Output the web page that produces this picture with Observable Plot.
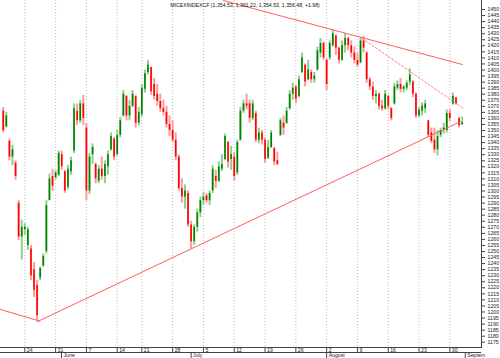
<!DOCTYPE html>
<html><head><meta charset="utf-8">
<script src="https://cdn.jsdelivr.net/npm/d3@7"></script>
<script src="https://cdn.jsdelivr.net/npm/@observablehq/plot@0.6"></script>
<style>body{margin:0;background:#fff}</style>
</head><body><div id="chart"></div>
<script>
const titleText = "MICEXINDEXCF (1,354.53, 1,361.22, 1,354.53, 1,356.48, +1.98)";
// bars: trading-day position of the first bar and half-day spacing
const firstBarDay = -3.5, barStep = 0.5;
const open = [1366,1353,1341,1328,1323,1290,1262,1268,1255,1252,1235,1222,1228,1238,1250,1292,1312,1311,1313,1330,1316,1303,1316,1333,1366,1358,1372,1352,1300,1330,1322,1308,1318,1312,1320,1334,1343,1330,1346,1362,1378,1362,1370,1378,1356,1363,1384,1398,1402,1388,1380,1374,1368,1365,1355,1350,1342,1328,1302,1295,1298,1272,1258,1270,1282,1292,1296,1292,1300,1312,1308,1318,1326,1340,1326,1328,1315,1342,1366,1372,1372,1360,1364,1342,1348,1342,1327,1336,1335,1325,1346,1356,1356,1368,1380,1386,1378,1398,1404,1392,1398,1392,1400,1414,1422,1408,1410,1420,1428,1418,1408,1420,1426,1420,1414,1408,1406,1424,1414,1392,1386,1378,1380,1370,1368,1378,1368,1372,1385,1388,1384,1385,1390,1390,1380,1362,1366,1368,1358,1348,1342,1334,1346,1350,1350,1364,1372,1377,1360,1354.53];
const high = [1369,1365,1343,1338,1325,1292,1276,1273,1270,1255,1241,1226,1237,1248,1292,1314,1318,1317,1333,1333,1317,1321,1328,1372,1372,1375,1379,1356,1331,1339,1323,1321,1328,1325,1333,1348,1344,1350,1361,1383,1379,1375,1383,1379,1369,1388,1400,1408,1402,1393,1388,1380,1375,1370,1362,1358,1348,1330,1310,1305,1300,1275,1272,1285,1295,1299,1298,1300,1321,1317,1324,1330,1347,1341,1337,1332,1342,1369,1375,1380,1375,1375,1366,1352,1350,1344,1342,1350,1336,1332,1360,1362,1369,1383,1389,1387,1395,1414,1405,1408,1400,1398,1419,1426,1423,1409,1424,1433,1429,1419,1424,1430,1427,1424,1419,1414,1427,1428,1415,1394,1390,1383,1381,1375,1383,1379,1369,1389,1391,1393,1387,1391,1401,1391,1381,1369,1373,1375,1358,1352,1352,1350,1352,1356,1367,1367,1381,1377,1361,1361.22];
const low = [1348,1352,1325,1321,1309,1259,1243,1263,1251,1226,1212,1193,1226,1237,1248,1292,1300,1309,1312,1317,1298,1301,1313,1331,1354,1356,1354,1292,1297,1322,1306,1306,1309,1306,1313,1333,1325,1329,1344,1361,1358,1358,1369,1352,1354,1361,1381,1396,1379,1375,1370,1365,1362,1352,1345,1340,1325,1300,1290,1285,1270,1252,1255,1266,1278,1288,1290,1288,1298,1302,1307,1316,1325,1319,1317,1308,1313,1341,1364,1367,1356,1358,1340,1339,1338,1323,1326,1335,1321,1321,1345,1346,1355,1367,1375,1372,1377,1397,1386,1391,1389,1389,1399,1410,1408,1383,1408,1419,1412,1405,1407,1414,1416,1410,1405,1402,1405,1414,1389,1383,1375,1372,1367,1366,1367,1367,1358,1371,1383,1381,1381,1383,1387,1377,1360,1361,1362,1364,1344,1339,1331,1329,1344,1347,1348,1357,1371,1371,1352,1354.53];
const close = [1350,1362,1328,1334,1312,1262,1270,1270,1268,1230,1218,1197,1236,1246,1288,1310,1304,1315,1331,1320,1300,1318,1325,1368,1358,1372,1360,1300,1328,1336,1310,1318,1312,1322,1330,1345,1328,1346,1358,1380,1362,1370,1380,1356,1365,1385,1397,1404,1382,1378,1374,1368,1365,1355,1350,1342,1328,1302,1295,1300,1272,1258,1270,1282,1292,1295,1292,1298,1318,1308,1320,1322,1345,1324,1330,1312,1340,1366,1372,1370,1360,1372,1342,1348,1342,1326,1336,1348,1324,1322,1358,1352,1366,1380,1385,1376,1392,1410,1390,1400,1392,1395,1416,1422,1410,1388,1422,1430,1418,1408,1420,1426,1420,1414,1408,1404,1424,1418,1392,1386,1378,1380,1370,1368,1380,1370,1360,1386,1388,1384,1386,1389,1396,1380,1362,1367,1370,1372,1346,1341,1334,1345,1350,1352,1364,1360,1378,1372,1354,1356.48];

const weekTickDays = [0,5,10,15,19,24,29,34,39,44,49,54,59,64,69];
const weekTickLabels = ["24","31","7","14","21","28","5","12","19","26","2","9","16","23","30"];
const monthTickDays = [5.96,27,49,71.5];
const monthLabels = ["June","July","August","Septem"];
const yTickValues = d3.range(1175, 1451, 5);

// trend lines [tradingDay, price]
const upperTrend = [[32.26,1457.4],[71.05,1404.5]];
const dottedTrend = [[54.8,1426.0],[71.2,1368.2]];
const lowerTrend = [[2.06,1192.1],[70.73,1357.4]];
const leftTrend = [[-3.94,1202.1],[2.44,1192.4]];

const bars = open.map((o,i)=>({day:firstBarDay+i*barStep, open:o, high:high[i], low:low[i], close:close[i]}));
const up = bars.filter(d=>d.close>=d.open);
const down = bars.filter(d=>d.close<d.open);

const xDomain = [-3.945, 74.14];
const yDomain = [1170.66, 1457.44];
const ink = "#444";

const chart = Plot.plot({
  width: 500, height: 358,
  marginTop: 0, marginBottom: 11, marginLeft: 0, marginRight: 19,
  x: {domain: xDomain, axis: null},
  y: {domain: yDomain, axis: null},
  style: {fontFamily: "'Liberation Sans', Arial, sans-serif", fontSize: "5.2px", color: "#333", background: "#fff"},
  marks: [
    Plot.ruleX(weekTickDays, {stroke: "#bdbdbd", strokeDasharray: "1,2"}),
    Plot.ruleX(up, {x: "day", y1: "low", y2: "high", stroke: "#8fd08f", strokeWidth: 2}),
    Plot.ruleX(down, {x: "day", y1: "low", y2: "high", stroke: "#ff9a9a", strokeWidth: 2}),
    Plot.ruleX(up, {x: "day", y1: "open", y2: "close", stroke: "#008000", strokeWidth: 1.6}),
    Plot.ruleX(down, {x: "day", y1: "open", y2: "close", stroke: "#ff0000", strokeWidth: 1.6}),
    Plot.line(upperTrend, {x: d=>d[0], y: d=>d[1], stroke: "#ff5c5c", strokeWidth: 1}),
    Plot.line(lowerTrend, {x: d=>d[0], y: d=>d[1], stroke: "#ff5c5c", strokeWidth: 1}),
    Plot.line(leftTrend, {x: d=>d[0], y: d=>d[1], stroke: "#ff5c5c", strokeWidth: 1}),
    Plot.line(dottedTrend, {x: d=>d[0], y: d=>d[1], stroke: "#ff8080", strokeWidth: 1, strokeDasharray: "2,2"}),
    Plot.frame({anchor: "right", stroke: ink}),
    Plot.frame({anchor: "bottom", stroke: ink}),
    Plot.ruleY([yDomain[0]], {stroke: ink, dy: 5}),
    Plot.ruleX(weekTickDays, {insetTop: 347, insetBottom: -5, stroke: ink}),
    Plot.text(weekTickDays, {x: d=>d, text: (d,i)=>weekTickLabels[i], frameAnchor: "bottom", dx: 2, dy: 2.7, textAnchor: "start", lineAnchor: "middle", fill: "#222"}),
    Plot.ruleX(monthTickDays, {insetTop: 352, insetBottom: -11, stroke: ink}),
    Plot.text(monthTickDays, {x: d=>d, text: (d,i)=>monthLabels[i], frameAnchor: "bottom", dx: 2, dy: 8.3, textAnchor: "start", lineAnchor: "middle", fill: "#222"}),
    Plot.axisY(yTickValues, {anchor: "right", tickSize: 3, tickPadding: 3, tickFormat: d=>String(d), stroke: ink, fill: "#222"}),
    Plot.text([titleText], {frameAnchor: "top", dx: 4, dy: 4.5, lineAnchor: "middle", fill: "#111"})
  ]
});
document.getElementById("chart").appendChild(chart);
</script>
</body></html>
